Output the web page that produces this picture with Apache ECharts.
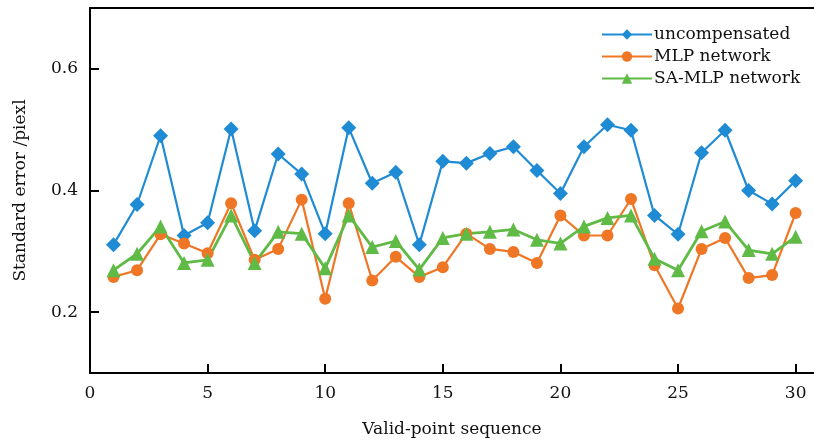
<!DOCTYPE html>
<html>
<head>
<meta charset="utf-8">
<script src="https://cdn.jsdelivr.net/npm/echarts@6/dist/echarts.min.js"></script>
<style>
html,body{margin:0;padding:0;background:#fff;}
#chart{width:814px;height:447px;}
</style>
</head>
<body>
<div id="chart"></div>
<script>
// 数据：每个有效点的标准误差
var seq = [1,2,3,4,5,6,7,8,9,10,11,12,13,14,15,16,17,18,19,20,21,22,23,24,25,26,27,28,29,30];
var uncompensated = [0.311,0.377,0.490,0.326,0.347,0.501,0.334,0.460,0.427,0.329,0.503,0.412,0.430,0.311,0.448,0.445,0.461,0.472,0.433,0.395,0.472,0.508,0.499,0.359,0.328,0.462,0.499,0.400,0.378,0.416];
var mlp = [0.258,0.269,0.328,0.313,0.297,0.379,0.286,0.304,0.385,0.222,0.379,0.252,0.291,0.258,0.274,0.329,0.304,0.299,0.281,0.359,0.326,0.326,0.386,0.277,0.206,0.304,0.322,0.256,0.261,0.363];
var saMlp = [0.269,0.296,0.341,0.281,0.286,0.359,0.281,0.332,0.329,0.272,0.359,0.307,0.317,0.270,0.322,0.329,0.332,0.336,0.319,0.313,0.341,0.355,0.359,0.288,0.269,0.333,0.349,0.302,0.296,0.324];
var xTicks = [0,5,10,15,20,25,30];
var yTicks = [0.2,0.4,0.6];
var seriesNames = ['uncompensated','MLP network','SA-MLP network'];

var FONT = 'DejaVu Serif';
var colors = ['#1f8bd4','#ef7625','#5fba46'];

function pairs(vals){
	var out = [];
	for (var i = 0; i < seq.length; i++) {
		out.push([seq[i], vals[i]]);
	}
	return out;
}

var chart = echarts.init(document.getElementById('chart'));
var axisLine = {show:true, lineStyle:{color:'#000', width:2}};
var option = {
	animation:false,
	backgroundColor:'#fff',
	color:colors,
	grid:{left:90, right:0, top:8, bottom:74},
	legend:{
		orient:'vertical',
		left:596, top:21,
		itemWidth:50, itemHeight:13, itemGap:5,
		textStyle:{fontFamily:FONT, fontSize:17, color:'#111', padding:[0,0,0,-3]},
		data:seriesNames
	},
	xAxis:[{
		type:'value', min:0, max:30.78,
		name:'Valid-point sequence', nameLocation:'middle', nameGap:48,
		nameTextStyle:{fontFamily:FONT, fontSize:17, color:'#111'},
		axisLine:axisLine,
		axisTick:{show:true, inside:true, length:9, lineStyle:{color:'#000', width:2}, customValues:xTicks},
		axisLabel:{fontFamily:FONT, fontSize:17, color:'#111', margin:12, customValues:xTicks},
		splitLine:{show:false}
	},{
		type:'value', position:'top', min:0, max:30.78,
		axisLine:axisLine, axisTick:{show:false}, axisLabel:{show:false}, splitLine:{show:false}
	}],
	yAxis:{
		type:'value', min:0.1, max:0.7,
		name:'Standard error /piexl', nameLocation:'middle', nameGap:61,
		nameTextStyle:{fontFamily:FONT, fontSize:17, color:'#111'},
		axisLine:axisLine,
		axisTick:{show:true, inside:true, length:9, lineStyle:{color:'#000', width:2}, customValues:yTicks},
		axisLabel:{fontFamily:FONT, fontSize:17, color:'#111', margin:12, customValues:yTicks,
			formatter:function(v){ return v.toFixed(1); }},
		splitLine:{show:false}
	},
	series:[{
		name:seriesNames[0], type:'line', data:pairs(uncompensated),
		symbol:'diamond', symbolSize:15, lineStyle:{width:2.2}
	},{
		name:seriesNames[1], type:'line', data:pairs(mlp),
		symbol:'circle', symbolSize:12, lineStyle:{width:2.2}
	},{
		name:seriesNames[2], type:'line', data:pairs(saMlp),
		symbol:'triangle', symbolSize:14, lineStyle:{width:2.8}
	}]
};
chart.setOption(option);
</script>
</body>
</html>
